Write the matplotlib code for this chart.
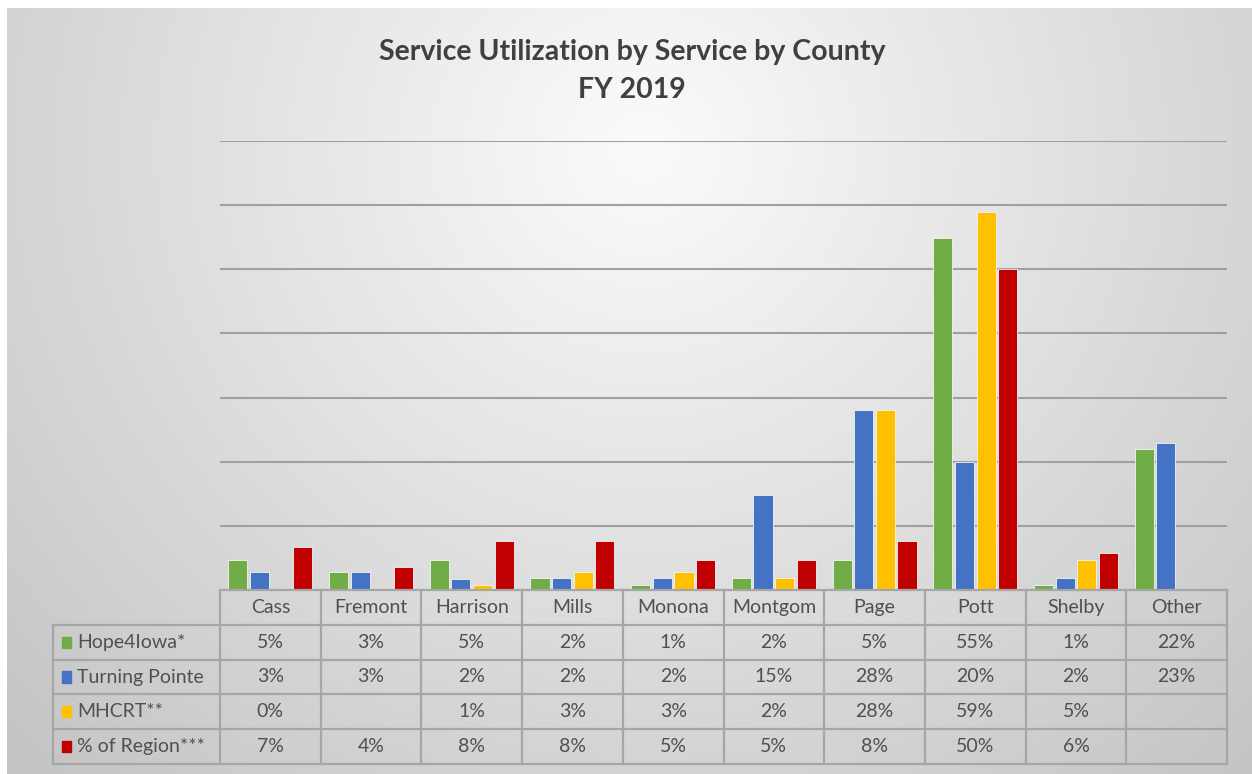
import numpy as np
import matplotlib
matplotlib.use("Agg")
import matplotlib.pyplot as plt
from matplotlib.patches import Rectangle

# ---- data ----
counties = ["Cass", "Fremont", "Harrison", "Mills", "Monona", "Montgom", "Page", "Pott", "Shelby", "Other"]
series_names = ["Hope4Iowa*", "Turning Pointe", "MHCRT**", "% of Region***"]
hope4iowa = [4.6, 2.8, 4.6, 1.9, 0.8, 1.9, 4.7, 54.8, 0.8, 22.0]
turning_pointe = [2.8, 2.8, 1.7, 1.9, 1.9, 14.8, 28.0, 19.9, 1.9, 22.9]
mhcrt = [0.0, None, 0.8, 2.8, 2.8, 1.9, 28.0, 58.9, 4.7, None]
pct_region = [6.7, 3.6, 7.6, 7.6, 4.7, 4.7, 7.6, 50.0, 5.8, None]
colors = ["#70AD47", "#4472C4", "#FFC000", "#C00000"]
title_lines = ["Service Utilization by Service by County", "FY 2019"]

series = [hope4iowa, turning_pointe, mhcrt, pct_region]

W, H = 1252, 774
fig = plt.figure(figsize=(W / 100, H / 100), dpi=100, facecolor="white")
FONT = "Lato"

# background gradient
bg = fig.add_axes([0, 0, 1, 1])
bg.axis("off")
yy, xx = np.mgrid[0:H, 0:W]
d = np.sqrt(((xx - 640) / 720.0) ** 2 + ((yy - 140) / 700.0) ** 2)
g = np.clip(251 - 44 * d, 190, 252) / 255.0
img = np.dstack([g, g, g])
bg.imshow(img, extent=(7, W, H, 8), zorder=0, aspect="auto")
bg.set_xlim(0, W)
bg.set_ylim(H, 0)

def fx(p):
    return p / W

def fy(p):
    return 1 - p / H

# main axes
left_px, right_px, top_px, base_px = 220, 1227, 141, 590
ax = fig.add_axes([fx(left_px), fy(base_px), (right_px - left_px) / W, (base_px - top_px) / H])
ax.set_facecolor("none")
n = len(counties)
ax.set_xlim(-0.5, n - 0.5)
ax.set_ylim(0, 70)
ax.set_yticks(np.arange(10, 71, 10))
ax.yaxis.grid(True, color="#a0a0a0", linewidth=1.5)
ax.set_axisbelow(True)
ax.tick_params(left=False, bottom=False, labelleft=False, labelbottom=False)
for s in ax.spines.values():
    s.set_visible(False)

bw, step = 0.19, 0.215
x = np.arange(n)
for k, (vals, c) in enumerate(zip(series, colors)):
    v = np.array([np.nan if val is None else val for val in vals], dtype=float)
    ax.bar(x + (k - 1.5) * step, v, width=bw, color=c, edgecolor="#f4f4f4",
           linewidth=0.6, zorder=3)

# title
for line, ypx in zip(title_lines, (52, 90)):
    fig.text(0.505, fy(ypx), line, ha="center", va="center", fontsize=20.5,
             fontweight="bold", color="#404040", family=FONT)

# data table
tbl_left = 53
unit = (right_px - left_px) / n
tx0 = -0.5 - (left_px - tbl_left) / unit
tab = fig.add_axes([fx(tbl_left), fy(764), (right_px - tbl_left) / W, (764 - base_px) / H])
tab.set_xlim(tx0, n - 0.5)
tab.set_ylim(5, 0)
tab.axis("off")
lc = "#a6a6a6"
lw = 1.6
tab.plot([-0.5, n - 0.5], [0, 0], color=lc, lw=lw, clip_on=False)
for i in range(n + 1):
    tab.plot([i - 0.5, i - 0.5], [0, 5], color=lc, lw=lw, clip_on=False)
for r in range(1, 6):
    tab.plot([tx0, n - 0.5], [r, r], color=lc, lw=lw, clip_on=False)
tab.plot([tx0, tx0], [1, 5], color=lc, lw=lw, clip_on=False)

tcol = "#505050"
fs = 14
for i, cname in enumerate(counties):
    tab.text(i, 0.5, cname, ha="center", va="center", fontsize=fs, color=tcol, family=FONT)
for r, (name, vals, c) in enumerate(zip(series_names, series, colors)):
    yc = r + 1.5
    tab.add_patch(Rectangle((tx0 + 9 / unit, yc - 0.16), 9 / unit, 0.32, color=c,
                            clip_on=False))
    tab.text(tx0 + 24 / unit, yc, name, ha="left", va="center", fontsize=fs,
             color=tcol, family=FONT)
    for i, val in enumerate(vals):
        if val is None:
            continue
        tab.text(i, yc, f"{int(round(val))}%", ha="center", va="center", fontsize=fs,
                 color=tcol, family=FONT)

fig.savefig("out.png", dpi=100, facecolor="white")
